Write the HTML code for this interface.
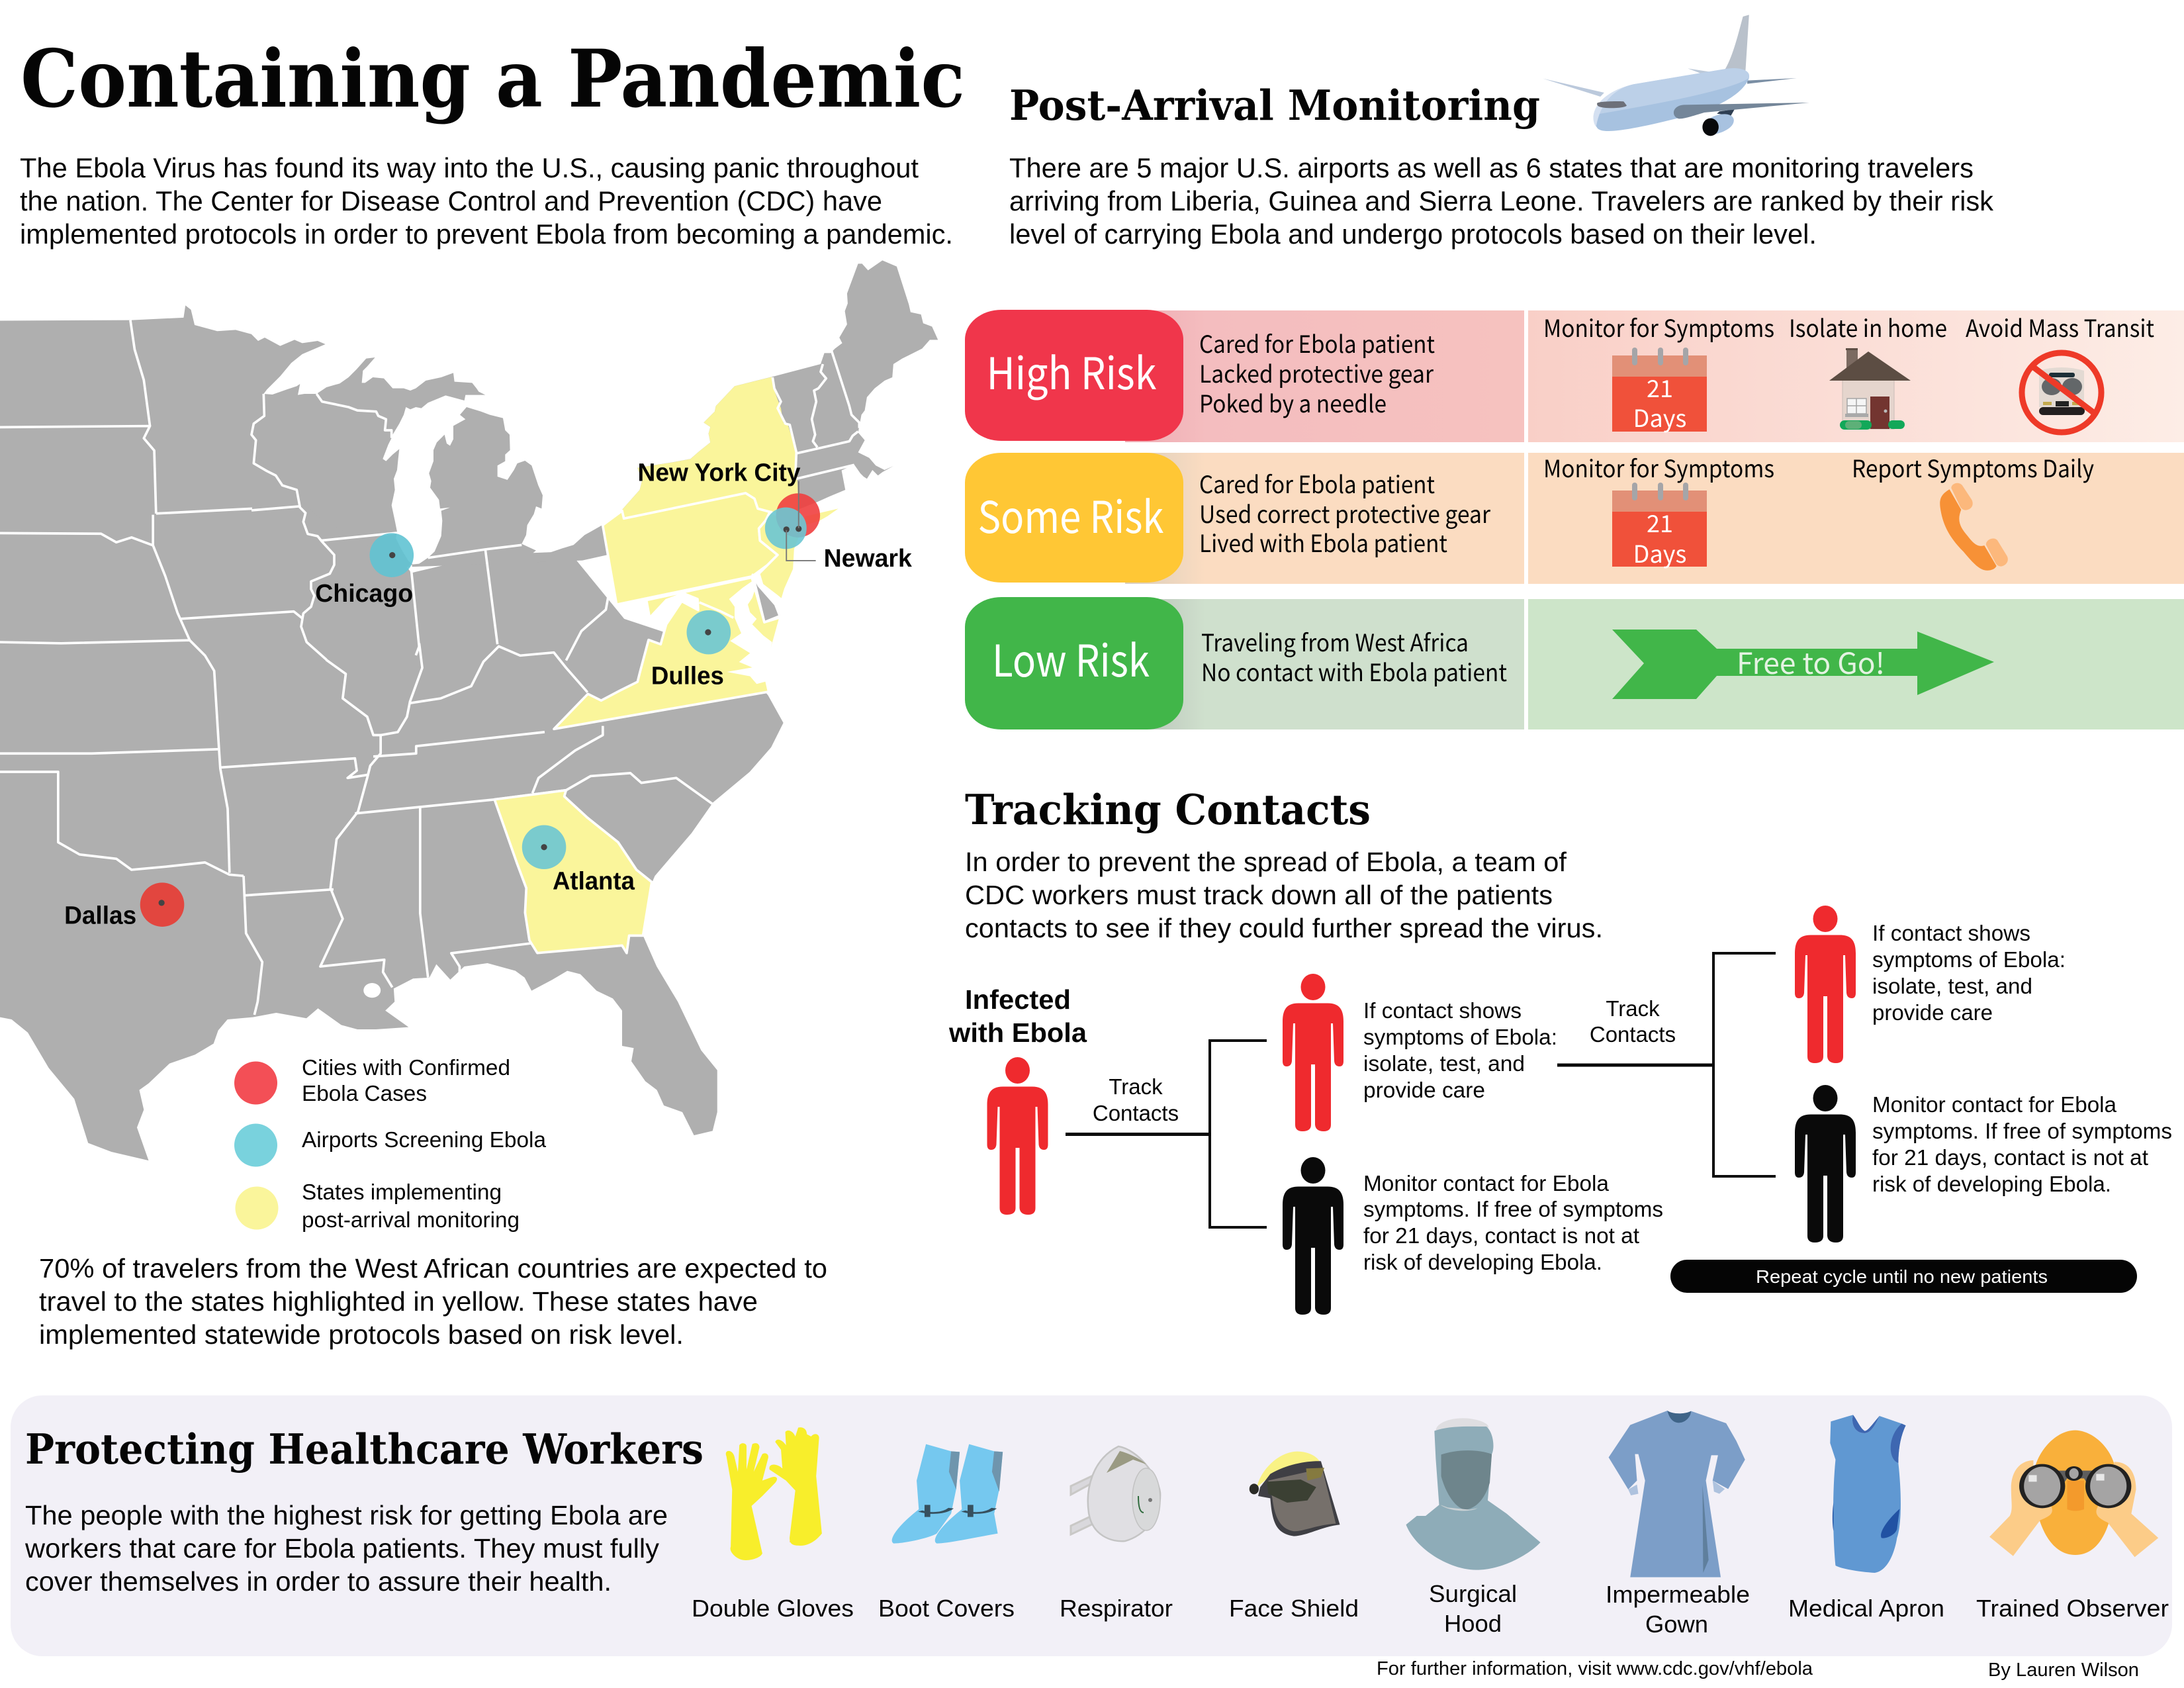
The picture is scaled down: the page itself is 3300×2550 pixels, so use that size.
<!DOCTYPE html>
<html lang="en">
<head>
<meta charset="utf-8">
<title>Containing a Pandemic</title>
<style>
html,body{margin:0;padding:0;background:#fff}
svg{display:block}
text{fill:#050505}
.sl{font-family:"DejaVu Serif","Liberation Serif",serif;font-weight:700}
.hv{font-family:"Liberation Sans",Arial,sans-serif}
.hb{font-family:"Liberation Sans",Arial,sans-serif;font-weight:700}
.my{font-family:"Noto Sans CJK JP","Liberation Sans",sans-serif}
.w{fill:#fff}
</style>
</head>
<body>
<svg xmlns="http://www.w3.org/2000/svg" width="3300" height="2550" viewBox="0 0 3300 2550">
<defs>
<linearGradient id="gh" x1="0" x2="1" y1="0" y2="0"><stop offset="0" stop-color="#EFAAB2"/><stop offset=".2" stop-color="#F4BDBF"/><stop offset="1" stop-color="#F6C2BF"/></linearGradient>
<linearGradient id="gs" x1="0" x2="1" y1="0" y2="0"><stop offset="0" stop-color="#D8CDBB"/><stop offset=".2" stop-color="#FBDCC1"/><stop offset="1" stop-color="#FBDCC1"/></linearGradient>
<linearGradient id="gl" x1="0" x2="1" y1="0" y2="0"><stop offset="0" stop-color="#B5BDB5"/><stop offset=".2" stop-color="#CFE0CD"/><stop offset="1" stop-color="#CFE0CD"/></linearGradient>
<linearGradient id="gr" x1="0" x2="1" y1="0" y2="0"><stop offset="0" stop-color="#F9CFC7"/><stop offset="1" stop-color="#FDEDE6"/></linearGradient>
<g id="person">
<ellipse cx="0" cy="20" rx="18.5" ry="20"/>
<path d="M-22 44.5H22C38 44.5 46 52 46 72V132Q46 140 40 140Q33 140 32 132L30 75H27V228Q27 238 16 238Q4 238 3 228V137H-3V228Q-3 238-16 238Q-27 238-27 228V75H-30L-32 132Q-33 140-40 140Q-46 140-46 132V72C-46 52-38 44.5-22 44.5Z"/>
</g>
<g id="calendar">
<rect x="0" y="0" width="143" height="115" fill="#F0513A"/>
<rect x="0" y="0" width="143" height="32" fill="#E29077"/>
<rect x="30" y="-12" width="8" height="27" rx="4" fill="#A5A5A8"/>
<rect x="69" y="-12" width="8" height="27" rx="4" fill="#A5A5A8"/>
<rect x="107" y="-12" width="8" height="27" rx="4" fill="#A5A5A8"/>
</g>
</defs>

<!-- HEADER -->
<text class="sl" x="31" y="161" font-size="120" textLength="1427" lengthAdjust="spacingAndGlyphs">Containing a Pandemic</text>
<g class="hv" font-size="42">
<text x="30" y="268" textLength="1358" lengthAdjust="spacingAndGlyphs">The Ebola Virus has found its way into the U.S., causing panic throughout</text>
<text x="30" y="318" textLength="1303" lengthAdjust="spacingAndGlyphs">the nation. The Center for Disease Control and Prevention (CDC) have</text>
<text x="30" y="368" textLength="1410" lengthAdjust="spacingAndGlyphs">implemented protocols in order to prevent Ebola from becoming a pandemic.</text>
</g>

<!-- MAP -->
<g>
<g transform="translate(0,380) scale(.9247)">
<path fill="#AFAFAF" d="M-5 113L215 112L300 108L303 88L312 95L318 120L355 130L385 128L411 135L425 232L520 300L620 400L640 480L672 525L800 495L930 490L1020 600L1200 660L1255 725L1280 770L1260 810L1225 850L1165 900L1130 950L1070 1020L1065 1032L1050.7 1117.5L1073 1168L1107.5 1225.6L1145.6 1304.9L1172 1337.4L1172 1405.9L1164.4 1436.5L1134 1443.7L1115 1405.9L1084.8 1395L1073.4 1369.8L1054.5 1355.4L1031.7 1322.9L1035.5 1301.3L1016.5 1297.7L1016.5 1240L1001.4 1220.2L974.8 1207.6L948.3 1180.5L927 1175.1L902.7 1189.5L868.6 1207.6L857.2 1186L842 1175L796.5 1162.5L758.6 1168L735.8 1189.5L713 1164.3L701.7 1186L675 1187.7L643.3 1204L644.8 1225.6L629.6 1240L667.6 1267L614.5 1270.7L584 1270.7L557.6 1263.5L519.6 1236.4L500.7 1252.6L451.4 1243.6L413.4 1250.8L371.7 1254.4L356.5 1272.5L349 1294L318.6 1312L276.9 1326.5L242.8 1359L227.6 1369.8L235 1402L223.8 1431L242.8 1485L182 1470.7L144 1456.3L121.4 1384.2L79.7 1333.8L45.5 1276L19 1254.4L0 1250.8L-5 1250Z"/>
<ellipse cx="608" cy="1207" rx="14" ry="12" fill="#fff"/>
</g>
<g transform="translate(380,480) scale(.3333)">
<path fill="#AFAFAF" d="M0 75L30 105L60 90L130 128L195 100L230 115L300 105L335 120L230 165L180 205L130 265L70 325L55 345L95 348L160 325L205 310L220 300L210 350L240 345L295 345L340 315L400 298L440 270L475 235L520 185L560 180L525 220L505 240L500 295L515 295L550 270L600 275L640 320L690 320L720 330L745 320L790 285L860 270L915 250L920 290L1000 295L1020 320L1030 335L1060 350L1110 350L970 350L965 375L880 352L800 385L770 410L745 405L720 415L700 405L690 440L670 480L640 530L635 545L620 575L595 640L610 650L640 620L670 595L665 640L660 690L645 730L650 780L635 850L650 920L660 970L655 1000L680 1050L710 1100L730 1118L760 1115L800 1088L830 1060L860 990L865 920L860 875L900 860L855 865L850 825L810 770L815 740L805 705L825 650L825 600L840 565L875 530L885 570L900 580L915 550L915 490L970 460L945 440L975 405L1040 425L1080 440L1140 455L1150 510L1170 530L1172 600L1150 620L1150 650L1115 670L1115 720L1160 735L1190 690L1205 660L1240 648L1270 670L1300 760L1320 805L1315 865L1290 855L1280 890L1250 940L1245 985L1225 1025L1290 1055L1265 1075L1330 1065L1390 1090L1350 1065L1410 1045L1460 1030L1510 985L1590 940L1680 870L1760 780L1770 740L1750 680L1910 655L1990 640L2030 605L2080 565L2072 525L2080 495L2050 475L2100 425L2105 400L2190 310L2370 265L2580 210L2597 160L2625 160L2645 140L2678 115L2665 90L2700 30L2690 -30L2703 -65L2700 -110L2750 -245L2768 -245L2795 -215L2860 -260L2925 -232L2980 -60L2988 -25L3035 -15L3045 25L3085 40L3112 100L3075 100L3040 140L2990 165L2950 185L2910 210L2905 270L2870 285L2825 320L2790 360L2780 420L2765 440L2755 495L2750 520L2780 555L2750 610L2800 635L2830 670L2870 690L2910 672L2860 700L2840 715L2815 690L2790 730L2775 720L2760 705L2732 665L2675 692L2692 780L2620 810L2565 835L2400 900L1500 1100L700 1130L300 900L0 600Z"/>
<g fill="none" stroke="#fff" stroke-width="11" stroke-linejoin="round">
<path d="M55 345L58 445L10 480L0 530L20 555L10 660L70 695L110 715L140 760L205 780L220 860L245 885L235 925L255 980L300 990L320 1015L375 1075L375 1120L355 1160L270 1195L270 1230L285 1260L270 1310L235 1340L225 1400L250 1470L340 1550"/>
<path d="M295 345L320 380L440 405L480 420L565 425L575 445L610 460L605 510L635 510L635 545"/>
<path d="M0 873L215 855"/><path d="M315 1010L660 975"/><path d="M722 1120L760 1490L745 1530"/>
<path d="M1060 1050L1115 1480"/><path d="M800 1088L1060 1050L1225 1030"/>
</g>
</g>
<g transform="translate(0,380) scale(.9247)">
<g fill="none" stroke="#fff" stroke-width="4" stroke-linejoin="round">
<path d="M213 112L220 160L235 210L245 285"/><path d="M-5 287L245 285L235 305L252 325L255 428"/>
<path d="M-5 460L165 461L190 475L215 467L250 480"/><path d="M250 430V480"/>
<path d="M255 428L412 420"/>
<path d="M295 600L480 588L495 600"/>
<path d="M250 480L270 530L290 590L310 635"/><path d="M-5 638L100 640L310 635L335 660L350 685L358 815"/>
<path d="M-5 820L150 820L358 813"/><path d="M358 843L580 828L583 848L568 860L600 855"/>
<path d="M358 815L360 845L372 910L375 1015"/><path d="M-5 850H95V965L130 985L190 992L215 1010L270 1005L335 998L375 1018L398 1020"/>
<path d="M398 1052L545 1042"/><path d="M398 1020L402 1113.8L428.6 1160.7L421 1225.6L415.7 1247"/>
<path d="M533 667L565 690L560 730L600 760L610 790L622 790V820L605 840L600 860L585 915L550 960L540 1040L560 1090L523.4 1168L628 1157L625.8 1177L641 1202"/>
<path d="M685 640L690 680L670 735L665 760L650 785L622 790"/>
<path d="M668 738L720 730L770 710L790 670L815 645L850 660L905 655L925 680L960 720"/><path d="M925 668L950 620L990 585L1000 530"/>
<path d="M610 825L680 820V808L890 785"/><path d="M985 775V790L940 815L880 860L870 885"/>
<path d="M580 918L680 908L810 895L925 880"/><path d="M686.5 908V1081L699.4 1186"/><path d="M868.6 1130L737.4 1146.3L751 1168L751 1184"/>
<path d="M925 880L965 857L1030 852L1048 868L1105 860L1165 903"/>
</g>
<path fill="#FAF59B" stroke="#fff" stroke-width="4" stroke-linejoin="round" d="M808 895L925 880L922 890L960 925L1010 965L1040 1010L1065 1030L1050.7 1117.5L1028 1117.5L1024 1146L1016.5 1133.7L878 1146L865 1125L858 1080L860 1040L845 1000Z"/>
</g>
<g transform="translate(850,560) scale(.3333)">
<g fill="#FAF59B" stroke="#fff" stroke-width="11" stroke-linejoin="round">
<path stroke="none" d="M1100 660L1250 625L1200 660L1165 680L1100 700Z"/>
<path stroke="none" d="M950 28L780 70L695 160L690 185L640 235L670 255L662 285L670 325L620 365L580 400L500 415L340 440L360 500L350 540L270 630L278 670L830 555L870 580L885 625L945 640L1090 700L1070 640L1060 370L1020 240L1000 235L990 170L960 90Z"/>
<path d="M182 700L270 635L278 670L830 555L870 580L885 625L940 640L920 680L890 715L895 770L975 835L930 880L860 932L245 1060Z"/>
<path d="M945 640L1090 720L1055 810L1050 900L1010 990L995 1040L970 1020L905 970L890 920L975 835L895 770L890 715L920 680Z"/>
<path d="M380 1040L858 937L915 1140L988 1118L960 1220L925 1340L925 1410L935 1455L-39 1624L115 1465L175 1495L260 1450L340 1410L350 1370L390 1220L445 1240L470 1150L540 1045L615 1085L612 1035L550 1010L470 1040L395 1120Z"/>
<path fill="#AFAFAF" d="M862 925L890 975L965 1060L985 1112L915 1140Z"/>
</g>
<path fill="#fff" d="M858 955L815 985L755 1035L780 1070L780 1120L810 1190L760 1225L850 1280L800 1320L860 1345L745 1365L850 1385L880 1420L925 1408L925 1340L950 1230L910 1200L860 1150L880 1125L850 1095L840 1060L860 1030L870 1000Z"/>
<path fill="none" stroke="#fff" stroke-width="11" d="M620 1050L715 1090L745 1105L775 1120"/>
</g>
<g transform="translate(1080,390) scale(.3333)" fill="none" stroke="#fff" stroke-width="11" stroke-linejoin="round">
<path d="M262 540L270 590L300 650L285 680L320 750L340 755L370 880L365 1000"/>
<path d="M490 480L480 515L505 545L470 590L450 600L460 650L440 730L455 800L445 830L465 857"/>
<path d="M528 415L610 670L620 710L655 745L655 770"/>
<path d="M370 885L610 830L625 805L650 785"/>
<path d="M370 1000L632 937"/>
</g>
<g transform="translate(0,380) scale(.9247)">
<g>
<circle cx="640" cy="496" r="36" fill="#61C3D3" fill-opacity=".9"/>
<circle cx="889" cy="973" r="36" fill="#6CC6D3" fill-opacity=".9"/>
<circle cx="1158" cy="622" r="36" fill="#6CC6D3" fill-opacity=".9"/>
<circle cx="1304" cy="431" r="36" fill="#EF3F3F" fill-opacity=".9"/>
<circle cx="1284" cy="452" r="34" fill="#6CC6D3" fill-opacity=".9"/>
<circle cx="265" cy="1067" r="36" fill="#E2463F"/>
<g fill="#444"><circle cx="641" cy="496" r="5"/><circle cx="889" cy="973" r="5"/><circle cx="1157" cy="622" r="5"/><circle cx="1305" cy="453" r="5"/><circle cx="1285" cy="454" r="5"/><circle cx="264" cy="1064" r="5"/></g>
<path d="M1305 375V452M1285 455V505H1333" fill="none" stroke="#777" stroke-width="2"/>
</g>
<g class="hb" font-size="41">
<text x="1042" y="375" textLength="266" lengthAdjust="spacingAndGlyphs">New York City</text>
<text x="1346" y="515" textLength="144" lengthAdjust="spacingAndGlyphs">Newark</text>
<text x="515" y="572" textLength="160" lengthAdjust="spacingAndGlyphs">Chicago</text>
<text x="1064" y="707" textLength="119" lengthAdjust="spacingAndGlyphs">Dulles</text>
<text x="903" y="1042" textLength="134" lengthAdjust="spacingAndGlyphs">Atlanta</text>
<text x="105" y="1098" textLength="118" lengthAdjust="spacingAndGlyphs">Dallas</text>
</g>
</g>
</g>

<!-- LEGEND -->
<g>
<circle cx="386.5" cy="1636" r="32.5" fill="#F34F56"/>
<circle cx="386.5" cy="1730" r="32.5" fill="#79D2DD"/>
<circle cx="388" cy="1825" r="32.5" fill="#FAF59B"/>
<g class="hv" font-size="33">
<text x="456" y="1624" textLength="315" lengthAdjust="spacingAndGlyphs">Cities with Confirmed</text>
<text x="456" y="1663" textLength="189" lengthAdjust="spacingAndGlyphs">Ebola Cases</text>
<text x="456" y="1733" textLength="369" lengthAdjust="spacingAndGlyphs">Airports Screening Ebola</text>
<text x="456" y="1812" textLength="302" lengthAdjust="spacingAndGlyphs">States implementing</text>
<text x="456" y="1854" textLength="329" lengthAdjust="spacingAndGlyphs">post-arrival monitoring</text>
</g>
</g>
<g class="hv" font-size="41">
<text x="59" y="1930" textLength="1191" lengthAdjust="spacingAndGlyphs">70% of travelers from the West African countries are expected to</text>
<text x="59" y="1980" textLength="1086" lengthAdjust="spacingAndGlyphs">travel to the states highlighted in yellow. These states have</text>
<text x="59" y="2030" textLength="974" lengthAdjust="spacingAndGlyphs">implemented statewide protocols based on risk level.</text>
</g>

<!-- POST-ARRIVAL -->
<text class="sl" x="1525" y="181" font-size="63" textLength="802" lengthAdjust="spacingAndGlyphs">Post-Arrival Monitoring</text>
<g transform="translate(2200,0) scale(.3827,.3333)">
<path fill="#B9C1CB" d="M1062 315C1095 250 1115 150 1133 75L1157 67L1143 320Z"/>
<path fill="#BCC9D9" d="M915 310L1000 325L965 332Z"/>
<path fill="#BBC9DC" d="M343 356L585 420L570 438Z"/>
<path fill="#7A8EA4" d="M1150 365L1345 354L1150 380Z"/>
<path fill="#A7C2E0" d="M555 575C520 520 560 420 700 382L1060 313C1120 300 1170 320 1155 360C1130 420 1060 470 960 510C800 560 660 595 600 594C580 594 560 590 555 575Z"/>
<path fill="#BCD0E8" d="M566 516C580 450 630 400 700 382L1060 313C1120 300 1170 320 1155 355C1080 410 800 470 566 516Z"/>
<path fill="#D4E0F1" d="M553 575C520 520 560 420 700 382C630 400 570 460 553 575Z"/>
<path fill="#6D7079" d="M557 468C560 458 655 458 662 460L674 478C670 490 590 495 565 483C558 480 556 474 557 468Z"/>
<path fill="#2E3E52" d="M1040 505L1100 495L1085 525L1030 515Z"/>
<path fill="#A8C2E0" d="M1005 535C1040 510 1095 510 1097 545C1097 580 1050 605 1005 612Z"/>
<ellipse fill="#08090B" cx="1005" cy="576" rx="32" ry="40"/>
<path fill="#748699" d="M900 475L1395 465L980 510C950 520 900 540 880 538C850 530 850 480 900 475Z"/>
</g>
<g class="hv" font-size="42">
<text x="1525" y="268" textLength="1457" lengthAdjust="spacingAndGlyphs">There are 5 major U.S. airports as well as 6 states that are monitoring travelers</text>
<text x="1525" y="318" textLength="1487" lengthAdjust="spacingAndGlyphs">arriving from Liberia, Guinea and Sierra Leone. Travelers are ranked by their risk</text>
<text x="1525" y="368" textLength="1220" lengthAdjust="spacingAndGlyphs">level of carrying Ebola and undergo protocols based on their level.</text>
</g>

<!-- RISK ROWS -->
<g>
<rect x="1700" y="469" width="603" height="199" fill="url(#gh)"/>
<rect x="2309" y="469" width="991" height="199" fill="url(#gr)"/>
<rect x="1458" y="468" width="330" height="198" rx="55" ry="45" fill="#F0364B"/>
<text class="my w" x="1619" y="588" font-size="66" text-anchor="middle" textLength="257" lengthAdjust="spacingAndGlyphs">High Risk</text>
<g class="my" font-size="36">
<text x="1812" y="533" textLength="356" lengthAdjust="spacingAndGlyphs">Cared for Ebola patient</text>
<text x="1812" y="578" textLength="354" lengthAdjust="spacingAndGlyphs">Lacked protective gear</text>
<text x="1812" y="623" textLength="283" lengthAdjust="spacingAndGlyphs">Poked by a needle</text>
<text x="2332" y="509" textLength="349" lengthAdjust="spacingAndGlyphs">Monitor for Symptoms</text>
<text x="2703" y="509" textLength="239" lengthAdjust="spacingAndGlyphs">Isolate in home</text>
<text x="2970" y="509" textLength="285" lengthAdjust="spacingAndGlyphs">Avoid Mass Transit</text>
</g>
<g>
<use href="#calendar" x="2436" y="537"/>
<text class="my w" x="2508" y="600" font-size="36" text-anchor="middle">21</text>
<text class="my w" x="2508" y="645" font-size="36" text-anchor="middle">Days</text>
</g>
<g>
<rect x="2790" y="526" width="17" height="35" fill="#7B6A61"/><rect x="2789" y="526" width="18" height="3" fill="#5E4F46"/>
<rect x="2784" y="574" width="78" height="74" fill="#E5D5CD" stroke="#C9BDB7"/>
<path d="M2823 531L2887 575H2764Z" fill="#5C4D43"/>
<rect x="2826" y="599" width="29" height="49" fill="#733530"/><circle cx="2849" cy="621" r="2.5" fill="#BBB"/>
<rect x="2791" y="602" width="29" height="23" fill="#F5F5F5" stroke="#A5A5A5" stroke-width="1.5"/><path d="M2805 602V625M2791 613H2820" stroke="#A5A5A5" stroke-width="1.5"/>
<rect x="2788" y="625" width="35" height="5" fill="#A9A9A9"/>
<rect x="2780" y="635" width="48" height="14" rx="7" fill="#12A859"/><rect x="2788" y="636" width="25" height="12" rx="6" fill="#5DB078"/>
<rect x="2853" y="635" width="25" height="13" rx="6.5" fill="#12A859"/>
</g>
<g>
<path d="M3081 560Q3115 550 3149 560V615H3081Z" fill="#E3DAD3"/>
<rect x="3096" y="563" width="39" height="7" rx="3" fill="#1D3038"/>
<ellipse cx="3100" cy="584" rx="15" ry="13" fill="#636769"/><ellipse cx="3131" cy="584" rx="15" ry="13" fill="#636769"/>
<rect x="3106" y="606" width="20" height="8" fill="#222"/><rect x="3087" y="607" width="13" height="5" fill="#C3A94E"/><rect x="3131" y="607" width="13" height="5" fill="#C3A94E"/>
<rect x="3081" y="615" width="69" height="12" rx="6" fill="#231F20"/>
<circle cx="3115" cy="593" r="60" fill="none" stroke="#EE3A28" stroke-width="9"/>
<path d="M3073 555L3163 623" stroke="#EE3A28" stroke-width="9"/>
</g>
</g>

<g>
<rect x="1700" y="684" width="603" height="198" fill="url(#gs)"/>
<rect x="2309" y="684" width="991" height="198" fill="#FBDCC1"/>
<rect x="1458" y="684" width="330" height="196" rx="55" ry="45" fill="#FFC735"/>
<text class="my w" x="1618" y="805" font-size="66" text-anchor="middle" textLength="281" lengthAdjust="spacingAndGlyphs">Some Risk</text>
<g class="my" font-size="36">
<text x="1812" y="745" textLength="356" lengthAdjust="spacingAndGlyphs">Cared for Ebola patient</text>
<text x="1812" y="790" textLength="440" lengthAdjust="spacingAndGlyphs">Used correct protective gear</text>
<text x="1812" y="834" textLength="375" lengthAdjust="spacingAndGlyphs">Lived with Ebola patient</text>
<text x="2332" y="721" textLength="349" lengthAdjust="spacingAndGlyphs">Monitor for Symptoms</text>
<text x="2798" y="721" textLength="366" lengthAdjust="spacingAndGlyphs">Report Symptoms Daily</text>
</g>
<g>
<use href="#calendar" x="2436" y="741"/>
<text class="my w" x="2508" y="804" font-size="36" text-anchor="middle">21</text>
<text class="my w" x="2508" y="850" font-size="36" text-anchor="middle">Days</text>
</g>
<g transform="translate(2700,500) scale(.3333)">
<path fill="#F79136" d="M737 718C700 740 690 760 695 800C705 870 730 930 800 1000C850 1060 880 1090 915 1085C935 1083 945 1075 950 1065L895 972C870 980 850 970 820 930C785 890 770 860 790 810Z"/>
<path fill="#FCB87C" d="M745 712C745 690 780 680 795 700L838 765C850 790 835 810 810 812C800 812 790 805 785 795Z"/>
<path fill="#FCB87C" d="M903 970C900 945 940 930 955 950L998 1020C1010 1045 990 1065 970 1067C960 1067 950 1060 945 1050Z"/>
</g>
</g>

<g>
<rect x="1700" y="905" width="603" height="197" fill="url(#gl)"/>
<rect x="2309" y="905" width="991" height="197" fill="#CDE5C9"/>
<rect x="1458" y="902" width="330" height="200" rx="55" ry="45" fill="#41B649"/>
<text class="my w" x="1618" y="1022" font-size="66" text-anchor="middle" textLength="238" lengthAdjust="spacingAndGlyphs">Low Risk</text>
<g class="my" font-size="36">
<text x="1815" y="984" textLength="404" lengthAdjust="spacingAndGlyphs">Traveling from West Africa</text>
<text x="1815" y="1029" textLength="462" lengthAdjust="spacingAndGlyphs">No contact with Ebola patient</text>
</g>
<path fill="#41B649" d="M2436 951H2563L2594 980H2897V954L3013 1000L2897 1050V1021H2594L2563 1056H2436L2484 1002Z"/>
<text class="my" style="fill:#E4F3E2" x="2624" y="1018" font-size="44" textLength="224" lengthAdjust="spacingAndGlyphs">Free to Go!</text>
</g>

<!-- TRACKING -->
<text class="sl" x="1458" y="1245" font-size="63" textLength="613" lengthAdjust="spacingAndGlyphs">Tracking Contacts</text>
<g class="hv" font-size="41">
<text x="1458" y="1316" textLength="909" lengthAdjust="spacingAndGlyphs">In order to prevent the spread of Ebola, a team of</text>
<text x="1458" y="1366" textLength="888" lengthAdjust="spacingAndGlyphs">CDC workers must track down all of the patients</text>
<text x="1458" y="1416" textLength="964" lengthAdjust="spacingAndGlyphs">contacts to see if they could further spread the virus.</text>
</g>
<g class="hb" font-size="41">
<text x="1458" y="1524" textLength="160" lengthAdjust="spacingAndGlyphs">Infected</text>
<text x="1434" y="1574" textLength="208" lengthAdjust="spacingAndGlyphs">with Ebola</text>
</g>
<use href="#person" x="1537.5" y="1597" fill="#EF2A2E"/>
<use href="#person" x="1984" y="1471" fill="#EF2A2E"/>
<use href="#person" x="1984" y="1748" fill="#0A0A0A"/>
<use href="#person" x="2758" y="1368" fill="#EF2A2E"/>
<use href="#person" x="2758" y="1639" fill="#0A0A0A"/>
<g fill="none" stroke="#0A0A0A" stroke-width="4">
<path d="M1610 1713.5H1828" stroke-width="5"/><path d="M1914 1572H1828V1854H1914"/>
<path d="M2353 1609H2589" stroke-width="5"/><path d="M2683 1440H2589V1777H2683"/>
</g>
<g class="hv" font-size="33" text-anchor="middle">
<text x="1716" y="1653">Track</text><text x="1716" y="1693">Contacts</text>
<text x="2467" y="1535">Track</text><text x="2467" y="1574">Contacts</text>
</g>
<g class="hv" font-size="33">
<text x="2060" y="1538" textLength="239" lengthAdjust="spacingAndGlyphs">If contact shows</text>
<text x="2060" y="1578" textLength="293" lengthAdjust="spacingAndGlyphs">symptoms of Ebola:</text>
<text x="2060" y="1618" textLength="244" lengthAdjust="spacingAndGlyphs">isolate, test, and</text>
<text x="2060" y="1658" textLength="184" lengthAdjust="spacingAndGlyphs">provide care</text>
</g>
<g class="hv" font-size="33">
<text x="2060" y="1799" textLength="371" lengthAdjust="spacingAndGlyphs">Monitor contact for Ebola</text>
<text x="2060" y="1838" textLength="453" lengthAdjust="spacingAndGlyphs">symptoms. If free of symptoms</text>
<text x="2060" y="1878" textLength="417" lengthAdjust="spacingAndGlyphs">for 21 days, contact is not at</text>
<text x="2060" y="1918" textLength="361" lengthAdjust="spacingAndGlyphs">risk of developing Ebola.</text>
</g>
<g class="hv" font-size="33">
<text x="2829" y="1421" textLength="239" lengthAdjust="spacingAndGlyphs">If contact shows</text>
<text x="2829" y="1461" textLength="292" lengthAdjust="spacingAndGlyphs">symptoms of Ebola:</text>
<text x="2829" y="1501" textLength="242" lengthAdjust="spacingAndGlyphs">isolate, test, and</text>
<text x="2829" y="1541" textLength="182" lengthAdjust="spacingAndGlyphs">provide care</text>
</g>
<g class="hv" font-size="33">
<text x="2829" y="1680" textLength="369" lengthAdjust="spacingAndGlyphs">Monitor contact for Ebola</text>
<text x="2829" y="1720" textLength="453" lengthAdjust="spacingAndGlyphs">symptoms. If free of symptoms</text>
<text x="2829" y="1760" textLength="417" lengthAdjust="spacingAndGlyphs">for 21 days, contact is not at</text>
<text x="2829" y="1800" textLength="361" lengthAdjust="spacingAndGlyphs">risk of developing Ebola.</text>
</g>
<rect x="2524" y="1903" width="705" height="50" rx="25" fill="#050505"/>
<text class="hv w" x="2653" y="1938" font-size="28" textLength="441" lengthAdjust="spacingAndGlyphs">Repeat cycle until no new patients</text>

<!-- PROTECTING -->
<rect x="16" y="2108" width="3266" height="394" rx="48" ry="48" fill="#F2F0F7"/>
<text class="sl" x="38" y="2211" font-size="63" textLength="1025" lengthAdjust="spacingAndGlyphs">Protecting Healthcare Workers</text>
<g class="hv" font-size="41">
<text x="38" y="2303" textLength="971" lengthAdjust="spacingAndGlyphs">The people with the highest risk for getting Ebola are</text>
<text x="38" y="2353" textLength="958" lengthAdjust="spacingAndGlyphs">workers that care for Ebola patients. They must fully</text>
<text x="38" y="2403" textLength="886" lengthAdjust="spacingAndGlyphs">cover themselves in order to assure their health.</text>
</g>

<g transform="translate(0,2090) scale(1.0846,.3333)">
<g>
<path fill="#F9C98B" d="M1040 550L1062 770L1040 790ZM1108 485L1125 720L1100 720Z"/>
<path fill="#F8EE2B" d="M1018 740L1020 480L1012 330C1008 300 1020 295 1023 330L1028 400L1030 280C1033 265 1040 270 1040 285L1040 390L1048 275C1053 265 1058 272 1058 290L1050 400L1062 320C1066 310 1072 320 1070 340L1062 440L1075 425C1082 418 1085 430 1080 450L1062 510L1047 555L1062 770C1060 790 1045 805 1035 800C1025 795 1015 760 1018 740Z"/>
<path fill="#F8EE2B" d="M1100 700L1108 485L1095 440L1072 390C1070 362 1082 360 1090 385L1088 300L1080 265C1082 245 1090 255 1095 280L1094 220C1097 205 1105 215 1108 240L1112 200C1118 195 1124 205 1124 230L1130 240C1135 220 1142 230 1141 250L1137 420L1145 680C1140 700 1130 735 1115 735C1105 735 1100 730 1100 700Z"/>
</g>
<g>
<path fill="#75C8EF" d="M1290 275L1325 307L1337 310L1332 480L1325 590L1305 680C1295 700 1260 725 1245 725C1238 715 1245 660 1280 570L1277 440Z"/>
<path fill="#75C8EF" d="M1350 275L1385 307L1397 310L1392 480L1385 590L1390 680C1355 700 1320 725 1305 725C1298 715 1305 660 1340 570L1337 440Z"/>
<path fill="#6F95AD" d="M1325 307L1337 310L1332 480L1322 400ZM1385 307L1397 310L1392 490L1382 400Z"/>
<path fill="none" stroke="#37505E" stroke-width="8" d="M1282 578C1295 592 1315 590 1325 565M1342 578C1355 592 1375 590 1385 565M1292 550V605M1352 550V605"/>
</g>
</g>

<g>
<path fill="#D9D8DC" stroke="#C9C8C6" stroke-width="3" d="M1618 2245L1660 2225V2235L1618 2258ZM1618 2305L1660 2285V2298L1618 2318Z"/>
<path fill="#E0DFE3" stroke="#C4C4C4" stroke-width="2.5" d="M1690 2185C1650 2205 1640 2250 1645 2285C1650 2320 1680 2330 1700 2328C1730 2320 1755 2290 1753 2255C1750 2230 1720 2190 1690 2185Z"/>
<path fill="#9A9A83" d="M1692 2192C1705 2195 1725 2205 1732 2212L1712 2205L1672 2225Z"/>
<ellipse cx="1732" cy="2265" rx="21" ry="47" fill="#D8D9DA" stroke="#C2C2C2" stroke-width="1.5"/>
<circle cx="1738" cy="2266" r="3" fill="#777"/>
<path d="M1720 2260Q1720 2285 1728 2285" fill="none" stroke="#2E6A3C" stroke-width="2"/>
</g>

<g transform="translate(1700,2090) scale(1.0204,.3333)">
<g>
<path fill="#F9F284" d="M195 470C200 400 225 310 255 308C280 310 290 350 292 380L215 420Z"/>
<path fill="#3F3F44" d="M197 510L200 470L215 410C240 365 270 350 290 352L318 640C290 650 270 690 250 692C225 680 218 640 215 520Z"/>
<path fill="#76706B" d="M212 440L292 385L312 635C285 640 265 670 250 670C232 660 222 620 218 520Z"/>
<path fill="#857A3F" d="M268 385L295 382L290 425L270 440Z"/>
<path fill="#3B4033" d="M210 445L260 435L283 470L270 530L240 540L212 500Z"/>
<ellipse cx="191" cy="478" rx="7" ry="24" fill="#2A2A26"/>
</g>
<g>
<path fill="#DFDEE1" d="M460 215C460 180 480 157 500 157C520 157 540 180 538 200Z"/>
<path fill="#8EACB8" d="M458 215C480 190 510 195 535 195C545 220 548 290 543 320L537 530L565 590L615 720C600 770 560 845 520 845C480 845 430 750 416 640L432 600L445 600L465 550L460 340Z"/>
<path fill="#6E858C" d="M468 322C490 300 520 295 543 320L540 450C535 500 525 560 505 572C490 570 475 500 468 420Z"/>
<path fill="#C9D0D3" d="M467 550C480 580 510 585 522 565L510 572L478 562Z"/>
</g>
<g>
<path fill="#7C9EC8" d="M748 188L803 123C810 140 830 140 838 125L890 180L905 260L918 345L893 478L870 440L878 325L868 325L860 440L882 878H748L770 440L760 320L755 320L758 440L745 480L716 335Z"/>
<path fill="#3F6488" d="M803 123C810 140 830 140 838 125C838 150 830 178 820 178C810 178 805 150 803 123Z"/>
<path fill="#AEC2DE" d="M745 480L758 458L760 500L749 507ZM870 440L888 478L880 500L872 490Z"/>
<path fill="#5F7F9D" d="M855 460L864 800L856 858Z"/>
</g>
<g>
<path fill="#6098D2" d="M1045 172L1078 142C1075 170 1078 225 1095 225C1105 225 1112 180 1117 147L1150 182L1156 190C1148 240 1145 300 1145 360C1150 500 1150 640 1143 700C1140 760 1130 850 1110 858C1090 855 1060 840 1052 825C1048 700 1047 500 1052 345L1044 270Z"/>
<path fill="#3E67B1" d="M1078 142C1075 170 1078 225 1095 225C1105 225 1112 180 1117 147C1105 190 1100 215 1095 215C1088 200 1085 170 1078 142ZM1150 182L1156 190C1148 240 1145 300 1145 360C1130 345 1128 240 1150 182Z"/>
<path fill="#2152A3" d="M1147 568L1143 660C1140 690 1125 705 1120 700C1115 670 1135 600 1147 568ZM1049 540C1047 580 1047 640 1049 668Z"/>
</g>
<g>
<path fill="#F9B03B" d="M1407 212C1440 215 1470 330 1467 430C1465 600 1450 777 1407 777C1365 777 1345 600 1345 430C1345 330 1375 212 1407 212Z"/>
<path fill="#FCCC88" d="M1345 348C1320 350 1312 420 1312 470C1312 540 1315 570 1310 600L1280 695L1315 782L1355 620C1370 600 1375 590 1372 560L1345 400Z"/>
<path fill="#FCCC88" d="M1465 355C1490 355 1497 420 1497 480L1490 590L1530 700L1495 787L1455 630C1440 610 1435 590 1440 560Z"/>
<path fill="#F39A2C" d="M1395 440H1420V570Q1407 585 1395 570Z"/>
<path fill="#5E5E5E" d="M1380 395H1432V490L1420 430H1395L1380 495Z"/>
<ellipse cx="1358" cy="465" rx="34" ry="100" fill="#222"/><ellipse cx="1358" cy="465" rx="27" ry="88" fill="#A5A4A4"/>
<ellipse cx="1456" cy="465" rx="34" ry="100" fill="#222"/><ellipse cx="1456" cy="465" rx="27" ry="88" fill="#A5A4A4"/>
<ellipse cx="1405" cy="408" rx="13" ry="33" fill="#222"/><ellipse cx="1405" cy="408" rx="7" ry="24" fill="#A5A4A4"/>
<path fill="#E8E8E8" d="M1338 415H1350V445H1338ZM1438 410H1450V440H1438Z"/>
</g>
</g>

<g class="hv" font-size="36">
<text x="1045" y="2442" textLength="245" lengthAdjust="spacingAndGlyphs">Double Gloves</text>
<text x="1327" y="2442" textLength="206" lengthAdjust="spacingAndGlyphs">Boot Covers</text>
<text x="1601" y="2442" textLength="171" lengthAdjust="spacingAndGlyphs">Respirator</text>
<text x="1857" y="2442" textLength="196" lengthAdjust="spacingAndGlyphs">Face Shield</text>
<text x="2159" y="2420" textLength="133" lengthAdjust="spacingAndGlyphs">Surgical</text>
<text x="2182" y="2465" textLength="87" lengthAdjust="spacingAndGlyphs">Hood</text>
<text x="2426" y="2421" textLength="218" lengthAdjust="spacingAndGlyphs">Impermeable</text>
<text x="2486" y="2466" textLength="95" lengthAdjust="spacingAndGlyphs">Gown</text>
<text x="2702" y="2442" textLength="236" lengthAdjust="spacingAndGlyphs">Medical Apron</text>
<text x="2986" y="2442" textLength="291" lengthAdjust="spacingAndGlyphs">Trained Observer</text>
</g>
<text class="hv" x="2080" y="2530" font-size="29" textLength="659" lengthAdjust="spacingAndGlyphs">For further information, visit www.cdc.gov/vhf/ebola</text>
<text class="hv" x="3004" y="2532" font-size="29" textLength="228" lengthAdjust="spacingAndGlyphs">By Lauren Wilson</text>
</svg>
</body>
</html>
